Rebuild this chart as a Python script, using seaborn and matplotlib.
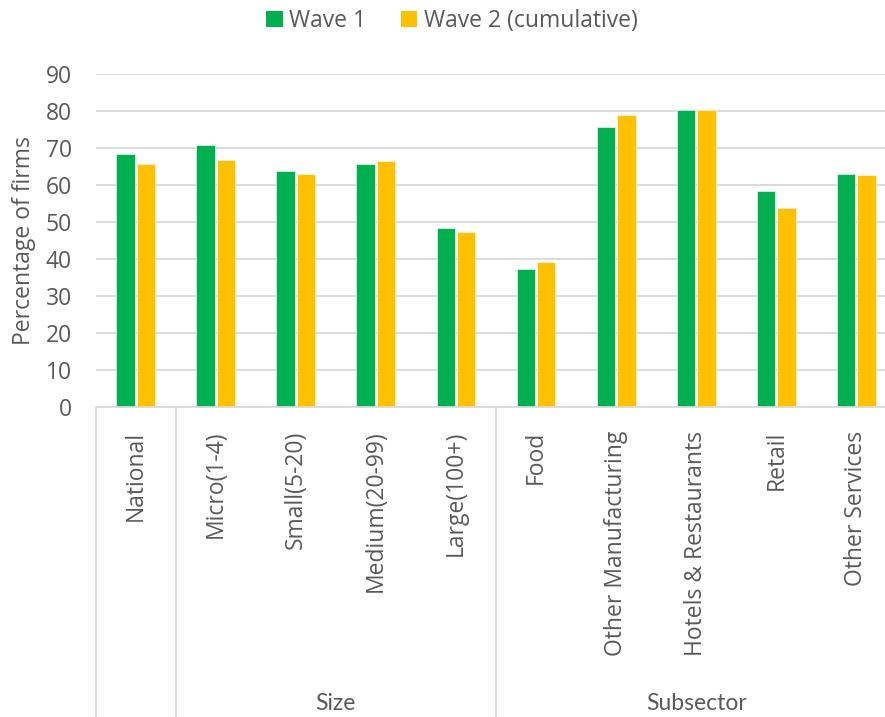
import matplotlib
matplotlib.use("Agg")
import matplotlib.pyplot as plt
import matplotlib.transforms as mtransforms
from matplotlib.patches import Patch
import pandas as pd
import seaborn as sns

categories = ["National", "Micro(1-4)", "Small(5-20)", "Medium(20-99)", "Large(100+)",
              "Food", "Other Manufacturing", "Hotels & Restaurants", "Retail", "Other Services"]
wave1 = [68.5, 70.7, 63.8, 65.8, 48.4, 37.4, 75.6, 80.3, 58.4, 63.1]
wave2 = [65.6, 66.7, 63.1, 66.4, 47.2, 39.3, 79.0, 80.4, 53.7, 62.8]
series = ["Wave 1", "Wave 2 (cumulative)"]
groups = [("Size", 1, 4), ("Subsector", 5, 9)]
y_ticks = list(range(0, 91, 10))

df = pd.DataFrame({
    "category": categories * 2,
    "value": wave1 + wave2,
    "series": [series[0]] * len(categories) + [series[1]] * len(categories),
})

sns.set_style("white")
plt.rcParams["font.family"] = ["Open Sans", "DejaVu Sans"]

text_color = "#595959"
grid_color = "#D9D9D9"
colors = {series[0]: "#00B050", series[1]: "#FFC000"}
fs = 16.5

fig = plt.figure(figsize=(8.85, 7.17), dpi=100)
# plot area runs slightly past the right edge of the canvas
ax = fig.add_axes([95.5 / 885, 1 - 407 / 717, 801 / 885, (407 - 74) / 717])

sns.barplot(data=df, x="category", y="value", hue="series", palette=colors,
            saturation=1, width=0.51, gap=0.1, ax=ax, legend=False,
            edgecolor="white", linewidth=0.4)

ax.set_ylim(0, 90)
ax.set_xlim(-0.5, len(categories) - 0.5)
ax.set_yticks(y_ticks)
ax.yaxis.grid(True, color=grid_color, linewidth=1.3)
ax.set_axisbelow(True)
for s in ["top", "right", "left"]:
    ax.spines[s].set_visible(False)
ax.spines["bottom"].set_color(grid_color)
ax.spines["bottom"].set_linewidth(1.3)

ax.tick_params(axis="y", length=0, pad=17, labelsize=fs, labelcolor=text_color)
ax.tick_params(axis="x", length=0, pad=17, labelsize=fs, labelcolor=text_color)
ax.set_xticks(range(len(categories)))
ax.set_xticklabels(categories, rotation=90, va="top", ha="center")
ax.set_xlabel("")
ax.set_ylabel("Percentage of firms", fontsize=fs, color=text_color, labelpad=7)

# hierarchical category axis: separators and group names
trans = mtransforms.blended_transform_factory(ax.transData, ax.transAxes)
bottom = -(717 - 407) / (407 - 74)
for xs in [-0.5, 0.5, 4.5]:
    ax.plot([xs, xs], [0, bottom], transform=trans, color=grid_color,
            linewidth=1.3, clip_on=False)
for name, first, last in groups:
    ax.text((first + last) / 2, -(703 - 407) / (407 - 74), name, transform=trans,
            ha="center", va="center", fontsize=fs, color=text_color,
            family=["Lato", "DejaVu Sans"])

handles = [Patch(facecolor=colors[s], edgecolor="none") for s in series]
fig.legend(handles, series, loc="center", bbox_to_anchor=(452 / 885, 1 - 21 / 717),
           ncol=2, frameon=False, fontsize=fs, labelcolor=text_color,
           handlelength=0.7, handleheight=0.7, handletextpad=0.3, columnspacing=1.5)

fig.savefig("out.png", dpi=100)
